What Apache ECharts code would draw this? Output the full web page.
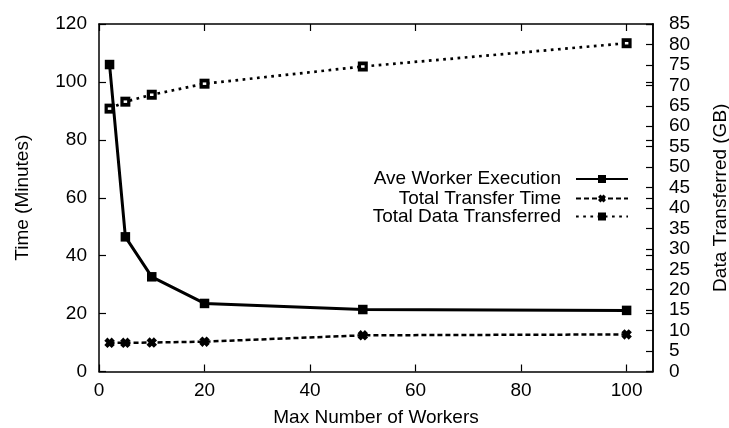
<!DOCTYPE html>
<html>
<head>
<meta charset="utf-8">
<script src="https://cdn.jsdelivr.net/npm/echarts@6/dist/echarts.min.js"></script>
<style>
html,body{margin:0;padding:0;background:#fff;}
#c{width:729px;height:428px;}
</style>
</head>
<body>
<div id="c"></div>
<script>
var workers = [2, 5, 10, 20, 50, 100];
var aveWorkerExecution = [106, 46.5, 32.7, 23.5, 21.4, 21.1];
var totalTransferTime = [9.9, 9.9, 10, 10.3, 12.5, 12.8];
var totalDataTransferred = [64.3, 66, 67.7, 70.4, 74.6, 80.3];
var xTicks = [0, 20, 40, 60, 80, 100];
var seriesNames = ['Ave Worker Execution', 'Total Transfer Time', 'Total Data Transferred'];

function pairs(xs, ys) { return xs.map(function (x, i) { return [x, ys[i]]; }); }

var FONT = '"Liberation Sans", Arial, sans-serif';
var FS = 19;
function axisLine() { return { show: true, onZero: false, lineStyle: { color: '#000', width: 1.5 } }; }
function tickIn(extra) {
  var t = { show: true, inside: true, length: 7, lineStyle: { color: '#000', width: 1.2 } };
  if (extra) { for (var k in extra) t[k] = extra[k]; }
  return t;
}

var xMarker = 'path://M0,3 L3,0 L5,2 L7,0 L10,3 L8,5 L10,7 L7,10 L5,8 L3,10 L0,7 L2,5 Z';

function legendAt(name, top) {
  return {
    data: [name],
    right: 100, top: top,
    orient: 'horizontal',
    align: 'right',
    padding: 0,
    itemWidth: 52, itemHeight: 10,
    itemGap: 0,
    textStyle: { fontFamily: FONT, fontSize: FS, color: '#000', lineHeight: 20, padding: [0, 10, 0, 0] }
  };
}

var chart = echarts.init(document.getElementById('c'), null, { renderer: 'canvas' });
chart.setOption({
  animation: false,
  backgroundColor: '#fff',
  grid: { left: 99, right: 76, top: 24, bottom: 56.5, containLabel: false, outerBoundsMode: 'none' },
  legend: [
    legendAt(seriesNames[0], 169),
    legendAt(seriesNames[1], 188.5),
    legendAt(seriesNames[2], 206.5)
  ],
  xAxis: [{
    type: 'value', min: 0, max: 105, interval: 20, position: 'bottom',
    name: 'Max Number of Workers', nameLocation: 'middle', nameGap: 37,
    nameTextStyle: { fontFamily: FONT, fontSize: FS, color: '#000' },
    axisLine: axisLine(), axisTick: tickIn({ customValues: xTicks }),
    axisLabel: { fontFamily: FONT, fontSize: FS, color: '#000', margin: 10, customValues: xTicks },
    splitLine: { show: false }
  }, {
    type: 'value', min: 0, max: 105, interval: 20, position: 'top',
    axisLine: axisLine(), axisTick: tickIn({ customValues: xTicks }),
    axisLabel: { show: false }, splitLine: { show: false }
  }],
  yAxis: [{
    type: 'value', min: 0, max: 120, interval: 20, position: 'left',
    name: 'Time (Minutes)', nameLocation: 'middle', nameGap: 67, nameRotate: 90,
    nameTextStyle: { fontFamily: FONT, fontSize: FS, color: '#000' },
    axisLine: axisLine(), axisTick: tickIn(),
    axisLabel: { fontFamily: FONT, fontSize: FS, color: '#000', margin: 12 },
    splitLine: { show: false }
  }, {
    type: 'value', min: 0, max: 85, interval: 5, position: 'right',
    name: 'Data Transferred (GB)', nameLocation: 'middle', nameGap: 58, nameRotate: 90,
    nameTextStyle: { fontFamily: FONT, fontSize: FS, color: '#000' },
    axisLine: axisLine(), axisTick: tickIn(),
    axisLabel: { fontFamily: FONT, fontSize: FS, color: '#000', margin: 16 },
    splitLine: { show: false }
  }, {
    type: 'value', min: 0, max: 120, interval: 20, position: 'right',
    axisLine: axisLine(), axisTick: tickIn(),
    axisLabel: { show: false }, splitLine: { show: false }
  }],
  series: [{
    name: seriesNames[0], type: 'line', xAxisIndex: 0, yAxisIndex: 0,
    data: pairs(workers, aveWorkerExecution),
    symbol: 'rect', symbolSize: 9.5,
    lineStyle: { color: '#000', width: 3, type: 'solid' },
    itemStyle: { color: '#000' }
  }, {
    name: seriesNames[1], type: 'line', xAxisIndex: 0, yAxisIndex: 0,
    data: pairs(workers, totalTransferTime),
    symbol: xMarker, symbolSize: 10.5,
    lineStyle: { color: '#000', width: 2.5, type: [5, 3] },
    itemStyle: { color: '#000' }
  }, {
    name: seriesNames[2], type: 'line', xAxisIndex: 0, yAxisIndex: 1,
    data: pairs(workers, totalDataTransferred),
    symbol: 'rect', symbolSize: 10,
    lineStyle: { color: '#000', width: 2.7, type: [2.7, 4.5] },
    itemStyle: { color: '#000' }
  }, {
    name: 'dataInner', type: 'line', xAxisIndex: 0, yAxisIndex: 1,
    data: pairs(workers, totalDataTransferred),
    symbol: 'rect', symbolSize: [3.5, 2.5], showAllSymbol: true,
    lineStyle: { width: 0, opacity: 0 },
    itemStyle: { color: '#fff' }, z: 5, silent: true
  }]
});
</script>
</body>
</html>
